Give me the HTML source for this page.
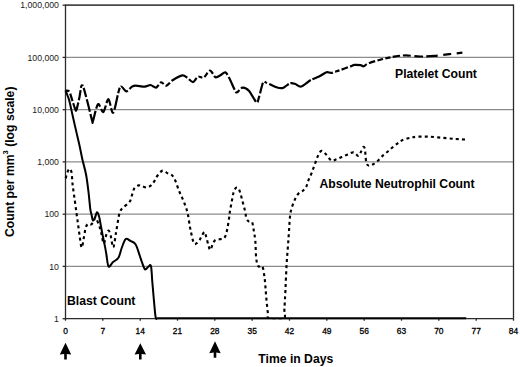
<!DOCTYPE html>
<html><head><meta charset="utf-8"><style>
html,body{margin:0;padding:0;background:#fff;}
svg{display:block;}
.t{font-family:"Liberation Sans",sans-serif;font-size:8.7px;fill:#1a1a1a;}
.tx{font-family:"Liberation Sans",sans-serif;font-size:8.4px;fill:#000;stroke:#000;stroke-width:0.3px;}
.b{font-family:"Liberation Sans",sans-serif;font-size:12.2px;font-weight:bold;fill:#000;}
.g{stroke:#8c8c8c;stroke-width:1.3;}
.ax{stroke:#2a2a2a;stroke-width:1.3;}
</style></head><body>
<svg width="520" height="367" viewBox="0 0 520 367">
<rect width="520" height="367" fill="#fff"/>
<line x1="65.5" y1="266.4" x2="513.5" y2="266.4" class="g"/><line x1="65.5" y1="214.2" x2="513.5" y2="214.2" class="g"/><line x1="65.5" y1="161.9" x2="513.5" y2="161.9" class="g"/><line x1="65.5" y1="109.7" x2="513.5" y2="109.7" class="g"/><line x1="65.5" y1="57.4" x2="513.5" y2="57.4" class="g"/><line x1="65.5" y1="5.2" x2="513.5" y2="5.2" class="g"/>
<line x1="65.5" y1="5.2" x2="513.5" y2="5.2" class="ax"/>
<line x1="513.5" y1="4.5" x2="513.5" y2="318.7" class="ax"/>
<line x1="65.5" y1="4.5" x2="65.5" y2="319.7" class="ax"/>
<line x1="65.5" y1="318.7" x2="513.5" y2="318.7" class="ax"/>
<line x1="62.6" y1="318.7" x2="65.5" y2="318.7" class="ax"/><line x1="62.6" y1="266.4" x2="65.5" y2="266.4" class="ax"/><line x1="62.6" y1="214.2" x2="65.5" y2="214.2" class="ax"/><line x1="62.6" y1="161.9" x2="65.5" y2="161.9" class="ax"/><line x1="62.6" y1="109.7" x2="65.5" y2="109.7" class="ax"/><line x1="62.6" y1="57.4" x2="65.5" y2="57.4" class="ax"/><line x1="62.6" y1="5.2" x2="65.5" y2="5.2" class="ax"/><line x1="65.5" y1="318.7" x2="65.5" y2="320.7" class="ax"/><line x1="102.8" y1="318.7" x2="102.8" y2="320.7" class="ax"/><line x1="140.2" y1="318.7" x2="140.2" y2="320.7" class="ax"/><line x1="177.5" y1="318.7" x2="177.5" y2="320.7" class="ax"/><line x1="214.8" y1="318.7" x2="214.8" y2="320.7" class="ax"/><line x1="252.2" y1="318.7" x2="252.2" y2="320.7" class="ax"/><line x1="289.5" y1="318.7" x2="289.5" y2="320.7" class="ax"/><line x1="326.8" y1="318.7" x2="326.8" y2="320.7" class="ax"/><line x1="364.2" y1="318.7" x2="364.2" y2="320.7" class="ax"/><line x1="401.5" y1="318.7" x2="401.5" y2="320.7" class="ax"/><line x1="438.8" y1="318.7" x2="438.8" y2="320.7" class="ax"/><line x1="476.2" y1="318.7" x2="476.2" y2="320.7" class="ax"/><line x1="513.5" y1="318.7" x2="513.5" y2="320.7" class="ax"/>
<text x="58.9" y="321.8" text-anchor="end" class="t">1</text><text x="58.9" y="269.6" text-anchor="end" class="t">10</text><text x="58.9" y="217.3" text-anchor="end" class="t">100</text><text x="58.9" y="165.0" text-anchor="end" class="t">1,000</text><text x="58.9" y="112.8" text-anchor="end" class="t">10,000</text><text x="58.9" y="60.5" text-anchor="end" class="t">100,000</text><text x="58.9" y="8.3" text-anchor="end" class="t">1,000,000</text><text x="65.5" y="333.7" text-anchor="middle" class="tx">0</text><text x="102.8" y="333.7" text-anchor="middle" class="tx">7</text><text x="140.2" y="333.7" text-anchor="middle" class="tx">14</text><text x="177.5" y="333.7" text-anchor="middle" class="tx">21</text><text x="214.8" y="333.7" text-anchor="middle" class="tx">28</text><text x="252.2" y="333.7" text-anchor="middle" class="tx">35</text><text x="289.5" y="333.7" text-anchor="middle" class="tx">42</text><text x="326.8" y="333.7" text-anchor="middle" class="tx">49</text><text x="364.2" y="333.7" text-anchor="middle" class="tx">56</text><text x="401.5" y="333.7" text-anchor="middle" class="tx">63</text><text x="438.8" y="333.7" text-anchor="middle" class="tx">70</text><text x="476.2" y="333.7" text-anchor="middle" class="tx">77</text><text x="513.5" y="333.7" text-anchor="middle" class="tx">84</text>
<path d="M65.6,90.6 C66.16,90.75 68.27,90.04 69.3,91.6 C70.33,93.16 71.58,98.30 72.5,101.0 C73.42,103.70 74.79,108.34 75.4,109.6 C76.02,110.86 75.98,111.29 76.6,109.4 C77.21,107.51 78.81,100.45 79.5,97.0 C80.19,93.55 80.78,88.11 81.2,86.4 C81.62,84.69 81.95,85.45 82.3,85.6 C82.64,85.75 82.64,84.64 83.5,87.4 C84.36,90.16 86.69,98.96 88.0,104.0 C89.31,109.04 91.45,118.45 92.2,121.0 C92.95,123.55 92.13,123.52 93.0,121.0 C93.87,118.48 96.45,105.55 98.0,104.2 C99.55,102.85 101.74,112.75 103.3,112.0 C104.86,111.25 106.90,99.11 108.4,99.2 C109.90,99.29 111.56,114.38 113.3,112.6 C115.04,110.81 118.05,90.49 120.0,87.3 C121.95,84.11 124.50,91.41 126.3,91.3 C128.10,91.19 130.59,87.45 132.0,86.6 C133.41,85.74 133.79,85.60 135.7,85.6 C137.60,85.60 142.48,86.69 144.7,86.6 C146.92,86.51 148.78,84.85 150.5,85.0 C152.22,85.15 154.61,87.99 156.2,87.6 C157.79,87.21 159.56,82.70 161.1,82.4 C162.64,82.10 164.78,85.91 166.5,85.6 C168.22,85.28 170.22,81.83 172.6,80.3 C174.98,78.77 180.19,75.78 182.4,75.4 C184.61,75.03 185.71,76.80 187.3,77.8 C188.89,78.80 191.41,82.28 193.0,82.1 C194.59,81.92 196.31,77.27 197.9,76.6 C199.49,75.92 201.78,78.50 203.6,77.6 C205.41,76.70 208.22,70.66 210.0,70.6 C211.78,70.54 213.93,76.51 215.5,77.2 C217.07,77.89 219.01,75.92 220.5,75.2 C221.99,74.48 224.05,71.89 225.4,72.4 C226.75,72.91 228.15,76.06 229.5,78.6 C230.85,81.13 233.31,87.23 234.4,89.3 C235.50,91.37 235.57,92.66 236.8,92.4 C238.03,92.15 240.75,87.82 242.6,87.6 C244.44,87.38 247.01,88.68 249.1,90.9 C251.19,93.12 255.03,101.41 256.5,102.4 C257.97,103.39 257.92,100.45 258.9,97.5 C259.88,94.55 261.89,84.92 263.0,82.7 C264.11,80.48 264.28,82.01 266.3,82.7 C268.32,83.39 274.10,86.49 276.5,87.3 C278.90,88.11 280.81,88.35 282.3,88.1 C283.79,87.84 285.17,86.33 286.4,85.6 C287.63,84.86 289.15,83.44 290.5,83.2 C291.85,82.96 293.81,83.50 295.4,84.0 C296.99,84.50 298.78,87.11 301.1,86.5 C303.43,85.89 308.20,81.39 310.9,79.9 C313.60,78.42 316.76,77.75 319.1,76.6 C321.44,75.44 324.66,72.75 326.5,72.2 C328.34,71.65 329.57,73.14 331.4,72.9 C333.23,72.66 336.00,71.52 338.7,70.6 C341.40,69.68 347.00,67.66 349.4,66.8 C351.80,65.94 353.03,65.14 354.7,64.9 C356.37,64.66 359.15,64.99 360.5,65.2 C361.85,65.41 362.60,66.54 363.7,66.3 C364.80,66.06 365.22,64.62 367.8,63.6 C370.38,62.58 376.97,60.53 380.9,59.5 C384.83,58.47 390.31,57.32 394.0,56.7 C397.69,56.09 401.60,55.43 405.5,55.4 C409.40,55.37 415.65,56.42 420.0,56.5 C424.35,56.58 430.11,56.24 434.5,55.9 C438.89,55.55 445.12,54.70 449.3,54.2 C453.49,53.71 460.44,52.84 462.4,52.6" fill="none" stroke="#000" stroke-width="2.2" stroke-dasharray="3.85 2.30 7.80 2.30 16.50 2.30 10.20 2.30 4.30 2.30 9.20 2.30 12.90 2.30 21.50 2.30 8.60 2.30 11.10 2.30 11.50 2.30 6.40 2.30 14.50 2.30 5.55 1.60 9.35 2.30 32.50 2.30 4.30 2.30 5.60 2.30 17.80 2.30 10.60 2.30 4.10 2.30 5.20 2.30 5.50 2.30 16.60 2.30 14.10 2.30 4.80 2.30 21.90 2.30 6.90 2.30 11.00 2.30 2.80 2.30 21.55 1.80 23.10 1.80 22.45 2.30 4.70 2.30 6.40 2.30 18.20 2.30 6.30 2.30 6.10 2.30 5.00 2.30 7.65 2.80 8.00 3.40 8.95 3.10 11.60 5.30 8.25 5.40 12.96 0.00"/>
<defs><clipPath id="c1"><rect x="0" y="0" width="520" height="319.3"/></clipPath></defs>
<path clip-path="url(#c1)" d="M65.7,178.4 C65.98,177.38 66.75,173.90 67.4,172.3 C68.05,170.70 68.92,168.80 69.6,168.8 C70.28,168.80 71.00,169.67 71.5,172.3 C72.00,174.93 72.13,180.50 72.6,184.6 C73.07,188.70 73.68,192.40 74.3,196.9 C74.92,201.40 75.68,207.10 76.3,211.6 C76.92,216.10 77.43,219.80 78.0,223.9 C78.57,228.00 79.08,232.27 79.7,236.2 C80.32,240.13 80.97,247.50 81.7,247.5 C82.43,247.50 83.42,239.57 84.1,236.2 C84.78,232.83 85.12,229.37 85.8,227.3 C86.48,225.23 87.35,224.27 88.2,223.8 C89.05,223.33 90.00,224.83 90.9,224.5 C91.80,224.17 92.82,222.93 93.6,221.8 C94.38,220.67 94.58,216.80 95.6,217.7 C96.62,218.60 98.67,224.25 99.7,227.2 C100.73,230.15 101.12,232.68 101.8,235.4 C102.48,238.12 103.02,243.73 103.8,243.5 C104.58,243.27 105.70,236.15 106.5,234.0 C107.30,231.85 107.92,230.37 108.6,230.6 C109.28,230.83 109.82,232.62 110.6,235.4 C111.38,238.18 112.40,247.75 113.3,247.3 C114.20,246.85 115.08,237.87 116.0,232.7 C116.92,227.53 118.05,219.97 118.8,216.3 C119.55,212.63 119.77,212.17 120.5,210.7 C121.23,209.23 121.67,209.00 123.2,207.5 C124.73,206.00 128.20,203.88 129.7,201.7 C131.20,199.52 131.38,196.72 132.2,194.4 C133.02,192.08 133.52,189.30 134.6,187.8 C135.68,186.30 137.47,185.67 138.7,185.4 C139.93,185.13 140.63,185.85 142.0,186.2 C143.37,186.55 145.40,187.63 146.9,187.5 C148.40,187.37 149.77,186.43 151.0,185.4 C152.23,184.37 153.20,182.95 154.3,181.3 C155.40,179.65 156.23,177.28 157.6,175.5 C158.97,173.72 160.87,171.00 162.5,170.6 C164.13,170.20 165.77,172.28 167.4,173.1 C169.03,173.92 170.93,174.13 172.3,175.5 C173.67,176.87 174.52,178.83 175.6,181.3 C176.68,183.77 177.72,187.58 178.8,190.3 C179.88,193.02 181.00,195.02 182.1,197.6 C183.20,200.18 184.45,203.07 185.4,205.8 C186.35,208.53 187.07,210.60 187.8,214.0 C188.53,217.40 189.18,222.80 189.8,226.2 C190.42,229.60 190.82,231.53 191.5,234.4 C192.18,237.27 193.08,241.90 193.9,243.4 C194.72,244.90 195.45,243.95 196.4,243.4 C197.35,242.85 198.78,241.20 199.6,240.1 C200.42,239.00 200.48,238.17 201.3,236.8 C202.12,235.43 203.68,231.90 204.5,231.9 C205.32,231.90 205.52,234.48 206.2,236.8 C206.88,239.12 207.92,243.62 208.6,245.8 C209.28,247.98 209.62,250.17 210.3,249.9 C210.98,249.63 211.88,245.83 212.7,244.2 C213.52,242.57 214.10,240.92 215.2,240.1 C216.30,239.28 217.93,239.57 219.3,239.3 C220.67,239.03 222.32,239.18 223.4,238.5 C224.48,237.82 225.12,236.98 225.8,235.2 C226.48,233.42 226.95,230.67 227.5,227.8 C228.05,224.93 228.70,220.72 229.1,218.0 C229.50,215.28 229.47,214.18 229.9,211.5 C230.33,208.82 231.10,205.03 231.7,201.9 C232.30,198.77 232.78,195.05 233.5,192.7 C234.22,190.35 235.18,188.52 236.0,187.8 C236.82,187.08 237.70,187.58 238.4,188.4 C239.10,189.22 239.48,190.45 240.2,192.7 C240.92,194.95 241.87,198.73 242.7,201.9 C243.53,205.07 244.60,209.02 245.2,211.7 C245.80,214.38 245.72,216.40 246.3,218.0 C246.88,219.60 247.75,220.62 248.7,221.3 C249.65,221.98 251.18,220.73 252.0,222.1 C252.82,223.47 253.05,226.37 253.6,229.5 C254.15,232.63 254.87,236.12 255.3,240.9 C255.73,245.68 255.70,253.97 256.2,258.2 C256.70,262.43 257.28,264.95 258.3,266.3 C259.32,267.65 261.28,264.60 262.3,266.3 C263.32,268.00 263.88,273.10 264.4,276.5 C264.92,279.90 265.07,282.95 265.4,286.7 C265.73,290.45 265.98,294.57 266.4,299.0 C266.82,303.43 267.45,310.08 267.9,313.3 C268.35,316.52 266.45,317.47 269.1,318.3 C271.75,319.13 281.25,319.82 283.8,318.3 C286.35,316.78 284.13,313.78 284.4,309.2 C284.67,304.62 285.03,298.23 285.4,290.8 C285.77,283.37 286.08,273.32 286.6,264.6 C287.12,255.88 287.93,246.48 288.5,238.5 C289.07,230.52 289.47,221.78 290.0,216.7 C290.53,211.62 290.87,210.90 291.7,208.0 C292.53,205.10 293.85,201.72 295.0,199.3 C296.15,196.88 297.28,194.93 298.6,193.5 C299.92,192.07 301.63,191.80 302.9,190.7 C304.17,189.60 305.28,188.62 306.2,186.9 C307.12,185.18 307.48,182.75 308.4,180.4 C309.32,178.05 310.62,175.53 311.7,172.8 C312.78,170.07 313.82,166.92 314.9,164.0 C315.98,161.08 317.10,157.48 318.2,155.3 C319.30,153.12 320.22,151.08 321.5,150.9 C322.78,150.72 324.23,152.58 325.9,154.2 C327.57,155.82 329.75,159.75 331.5,160.6 C333.25,161.45 334.63,159.93 336.4,159.3 C338.17,158.67 340.20,157.62 342.1,156.8 C344.00,155.98 345.88,155.13 347.8,154.4 C349.72,153.67 351.82,152.13 353.6,152.4 C355.38,152.67 357.28,156.08 358.5,156.0 C359.72,155.92 360.08,153.40 360.9,151.9 C361.72,150.40 362.72,147.40 363.4,147.0 C364.08,146.60 364.65,148.00 365.0,149.5 C365.35,151.00 365.23,153.68 365.5,156.0 C365.77,158.32 366.00,161.77 366.6,163.4 C367.20,165.03 368.00,165.67 369.1,165.8 C370.20,165.93 371.70,165.08 373.2,164.2 C374.70,163.32 376.47,161.97 378.1,160.5 C379.73,159.03 381.27,156.98 383.0,155.4 C384.73,153.82 386.73,152.48 388.5,151.0 C390.27,149.52 391.88,147.92 393.6,146.5 C395.32,145.08 397.35,143.55 398.8,142.5 C400.25,141.45 400.75,140.90 402.3,140.2 C403.85,139.50 406.37,138.80 408.1,138.3 C409.83,137.80 410.78,137.48 412.7,137.2 C414.62,136.92 416.83,136.68 419.6,136.6 C422.37,136.52 425.50,136.50 429.3,136.7 C433.10,136.90 438.03,137.42 442.4,137.8 C446.77,138.18 451.55,138.72 455.5,139.0 C459.45,139.28 464.33,139.42 466.1,139.5" fill="none" stroke="#000" stroke-width="2.15" stroke-dasharray="3 3.2"/>
<path d="M65.5,90.5 C65.83,91.33 66.83,93.67 67.5,95.5 C68.17,97.33 68.62,98.03 69.5,101.5 C70.38,104.97 71.72,111.48 72.8,116.3 C73.88,121.12 74.92,125.70 76.0,130.4 C77.08,135.10 78.23,139.65 79.3,144.5 C80.37,149.35 81.27,154.47 82.4,159.5 C83.53,164.53 85.08,169.28 86.1,174.7 C87.12,180.12 87.80,186.27 88.5,192.0 C89.20,197.73 89.78,205.27 90.3,209.1 C90.82,212.93 91.17,213.12 91.6,215.0 C92.03,216.88 92.33,219.95 92.9,220.4 C93.47,220.85 94.32,219.07 95.0,217.7 C95.68,216.33 96.33,212.43 97.0,212.2 C97.67,211.97 98.43,214.48 99.0,216.3 C99.57,218.12 99.83,220.15 100.4,223.1 C100.97,226.05 101.60,229.92 102.4,234.0 C103.20,238.08 104.53,244.18 105.2,247.6 C105.87,251.02 105.83,251.35 106.4,254.5 C106.97,257.65 107.50,265.23 108.6,266.5 C109.70,267.77 111.37,263.55 113.0,262.1 C114.63,260.65 116.95,260.15 118.4,257.8 C119.85,255.45 120.48,251.13 121.7,248.0 C122.92,244.87 124.27,240.18 125.7,239.0 C127.13,237.82 128.67,240.03 130.3,240.9 C131.93,241.77 133.98,241.92 135.5,244.2 C137.02,246.48 138.32,251.58 139.4,254.6 C140.48,257.62 141.05,259.85 142.0,262.3 C142.95,264.75 144.03,268.57 145.1,269.3 C146.17,270.03 147.42,267.22 148.4,266.7 C149.38,266.18 150.35,263.70 151.0,266.2 C151.65,268.70 151.78,275.67 152.3,281.7 C152.82,287.73 153.53,296.42 154.1,302.4 C154.67,308.38 155.17,314.95 155.7,317.6 C156.23,320.25 157.03,318.18 157.3,318.3" fill="none" stroke="#000" stroke-width="2"/>
<path d="M157.3,318.3 L466.2,318.3" fill="none" stroke="#000" stroke-width="2"/>
<text x="395" y="77.5" class="b">Platelet Count</text>
<text x="319.5" y="187.6" class="b">Absolute Neutrophil Count</text>
<text x="67" y="304.6" class="b">Blast Count</text>
<text x="258.3" y="363" class="b">Time in Days</text>
<text transform="translate(14.4,237) rotate(-90)" class="b" style="font-size:12.2px">Count per mm<tspan font-size="7.5" dy="-6">3</tspan><tspan dy="6"> (log scale)</tspan></text>
<path d="M65.5,342.8 L71.2,354.6 L66.8,354 L66.8,359.5 L64.2,359.5 L64.2,354 L59.8,354.6 Z" fill="#000"/><path d="M140.3,343.2 L146.0,354.6 L141.60000000000002,354 L141.60000000000002,359.5 L139.0,359.5 L139.0,354 L134.60000000000002,354.6 Z" fill="#000"/><path d="M215,341.3 L220.7,353.20000000000005 L216.3,352.6 L216.3,357.7 L213.7,357.7 L213.7,352.6 L209.3,353.20000000000005 Z" fill="#000"/>
</svg>
</body></html>
